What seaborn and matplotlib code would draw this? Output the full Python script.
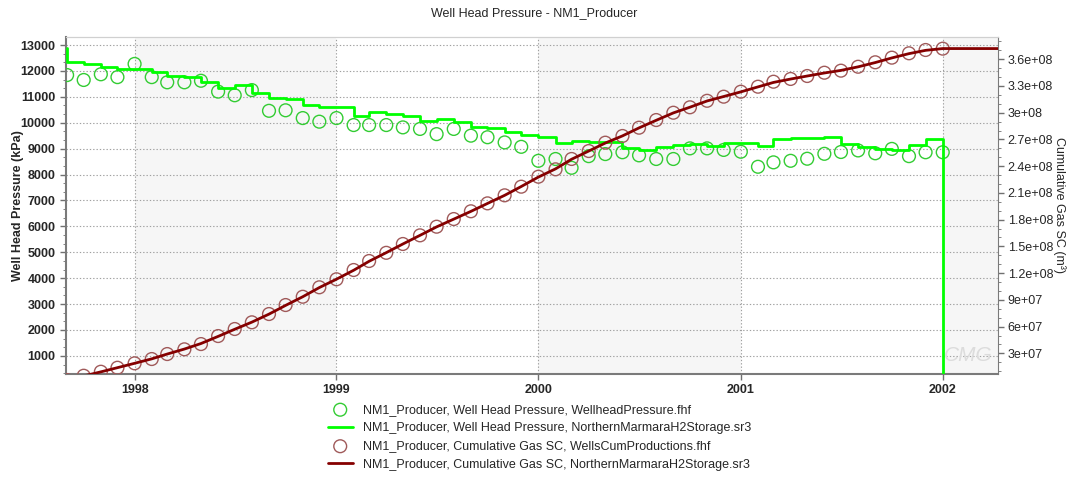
import numpy as np
import pandas as pd
import matplotlib
matplotlib.use("Agg")
import matplotlib.pyplot as plt
import matplotlib.dates as mdates
from matplotlib.ticker import MultipleLocator, AutoMinorLocator, FuncFormatter
import seaborn as sns

# ---------------- data ----------------
obs_months = pd.date_range("1997-09-01", "2002-01-01", freq="MS")

obs_pressure = [11840, 11650, 11870, 11760,
                12270, 11760, 11560, 11560, 11620, 11200, 11060, 11260, 10460, 10480, 10180, 10040,
                10180, 9910, 9910, 9910, 9820, 9760, 9560, 9760, 9500, 9440, 9240, 9070,
                8530, 8600, 8260, 8710, 8790, 8860, 8740, 8600, 8600, 9010, 9010, 8950,
                8880, 8300, 8470, 8530, 8610, 8800, 8870, 8930, 8820, 8990, 8710, 8860,
                8860]

obs_cum_gas = [0.0, 4.86e6, 9.35e6, 1.384e7,
               1.878e7, 2.36e7, 2.92e7, 3.45e7, 4.04e7, 4.94e7, 5.73e7, 6.48e7, 7.41e7, 8.42e7, 9.35e7, 1.041e8,
               1.131e8, 1.235e8, 1.336e8, 1.428e8, 1.527e8, 1.624e8, 1.721e8, 1.807e8, 1.894e8, 1.983e8, 2.073e8, 2.170e8,
               2.282e8, 2.365e8, 2.481e8, 2.570e8, 2.664e8, 2.739e8, 2.832e8, 2.918e8, 3.000e8, 3.061e8, 3.134e8, 3.180e8,
               3.236e8, 3.292e8, 3.348e8, 3.379e8, 3.412e8, 3.449e8, 3.472e8, 3.516e8, 3.566e8, 3.618e8, 3.667e8, 3.704e8,
               3.719e8]

sim_pressure_dates = pd.to_datetime(["1997-08-31"]).append(
    pd.date_range("1997-09-01", "2002-04-01", freq="MS"))
sim_pressure = [12880,
                12330, 12254, 12140, 12062,
                12090, 11950, 11820, 11776, 11560, 11328, 11470, 11160, 10965, 10915, 10700, 10620,
                10620, 10260, 10420, 10325, 10259, 10077, 10131, 10039, 9846, 9807, 9653, 9525,
                9459, 9205, 9293, 9266, 9266, 9011, 8946, 9073, 9140, 9165, 9114, 9205,
                9205, 9089, 9371, 9421, 9421, 9436, 9165, 9050, 8973, 8946, 9140, 9359,
                0, 0, 0, 0]

sim_cum_dates = pd.date_range("1997-09-01", "2002-01-01", freq="MS").append(
    pd.to_datetime(["2002-04-15"]))
sim_cum_gas = [0.0, 4.6e6, 9.2e6, 1.39e7,
               1.88e7, 2.38e7, 2.92e7, 3.48e7, 4.10e7, 4.90e7, 5.70e7, 6.50e7, 7.40e7, 8.38e7, 9.35e7, 1.038e8,
               1.132e8, 1.232e8, 1.333e8, 1.430e8, 1.527e8, 1.624e8, 1.719e8, 1.806e8, 1.893e8, 1.982e8, 2.073e8, 2.172e8,
               2.278e8, 2.370e8, 2.478e8, 2.570e8, 2.660e8, 2.740e8, 2.830e8, 2.915e8, 2.998e8, 3.062e8, 3.132e8, 3.182e8,
               3.234e8, 3.290e8, 3.340e8, 3.378e8, 3.412e8, 3.446e8, 3.475e8, 3.515e8, 3.563e8, 3.615e8, 3.663e8, 3.700e8,
               3.720e8, 3.720e8]

labels = ["NM1_Producer, Well Head Pressure, WellheadPressure.fhf",
          "NM1_Producer, Well Head Pressure, NorthernMarmaraH2Storage.sr3",
          "NM1_Producer, Cumulative Gas SC, WellsCumProductions.fhf",
          "NM1_Producer, Cumulative Gas SC, NorthernMarmaraH2Storage.sr3"]

# ---------------- style ----------------
sns.set_style("ticks")
plt.rcParams["font.family"] = ["Liberation Sans", "DejaVu Sans"]

fig = plt.figure(figsize=(10.68, 4.79), dpi=100)
ax = fig.add_axes([0.0618, 0.2192, 0.8727, 0.7036])
ax2 = ax.twinx()

xmin, xmax = pd.Timestamp("1997-08-30"), pd.Timestamp("2002-04-11")

# alternating shaded year bands
for a, b in [("1998-01-01", "1999-01-01"), ("2000-01-01", "2001-01-01"), ("2002-01-01", "2002-12-31")]:
    ax.axvspan(pd.Timestamp(a), pd.Timestamp(b), color="#f6f6f6", zorder=0, lw=0)

grid_kw = dict(color="#a0a0a0", linestyle=(0, (1.2, 1.8)), linewidth=0.8)
ax.grid(True, axis="both", which="major", **grid_kw)
ax.set_axisbelow(True)

ax.text(0.968, 0.055, "CMG", transform=ax.transAxes, ha="center", va="center",
        fontsize=15, color="#dcdcdc", style="italic", zorder=1)

# pressure
sns.scatterplot(x=obs_months, y=obs_pressure, ax=ax, marker="o", s=85,
                facecolor="none", edgecolor="#33cc33", linewidth=1.0,
                label=labels[0], legend=False, zorder=3)
sns.lineplot(x=sim_pressure_dates, y=sim_pressure, ax=ax, color="#00ff00",
             linewidth=2.0, drawstyle="steps-post", label=labels[1],
             legend=False, zorder=4, estimator=None)

# cumulative gas
sns.scatterplot(x=obs_months, y=obs_cum_gas, ax=ax2, marker="o", s=85,
                facecolor="none", edgecolor="#a05a5a", linewidth=1.0,
                label=labels[2], legend=False, zorder=3)
sns.lineplot(x=sim_cum_dates, y=sim_cum_gas, ax=ax2, color="#850000",
             linewidth=2.0, label=labels[3], legend=False, zorder=4, estimator=None)

# axes limits / ticks
ax.set_xlim(xmin, xmax)
ax.set_ylim(300, 13310)
ax2.set_ylim(6.8e6, 3.85e8)

ax.xaxis.set_major_locator(mdates.YearLocator())
ax.xaxis.set_major_formatter(mdates.DateFormatter("%Y"))
ax.set_yticks([v for v in range(1000, 14000, 1000)])
ax.yaxis.set_minor_locator(AutoMinorLocator(3))
ax2.set_yticks([3e7 * k for k in range(1, 13)])
ax2.yaxis.set_minor_locator(AutoMinorLocator(3))
ax2.yaxis.set_major_formatter(FuncFormatter(lambda v, p: "%g" % v))

ax.tick_params(axis="both", which="major", labelsize=9, length=4, color="#707070", width=1)
ax.tick_params(axis="y", which="minor", length=2, color="#707070")
ax2.tick_params(axis="y", which="major", labelsize=9, length=4, color="#707070", width=1, pad=3)
ax2.tick_params(axis="y", which="minor", length=2, color="#707070")
for lab in ax.get_yticklabels() + ax.get_xticklabels():
    lab.set_fontweight("bold")

ax.set_xlabel("")
ax.set_ylabel("Well Head Pressure (kPa)", fontsize=9, fontweight="bold", va="center")
ax.yaxis.set_label_coords(-0.052, 0.5)
ax2.set_ylabel("Cumulative Gas SC (m³)", fontsize=9, rotation=-90, va="center", ha="center")
ax2.yaxis.set_label_coords(1.066, 0.5)

for sp in ["left", "bottom"]:
    ax.spines[sp].set_color("#7a7a7a")
    ax.spines[sp].set_linewidth(1.5)
ax.spines["top"].set_color("#d0d0d0")
ax2.spines["top"].set_color("#d0d0d0")
ax2.spines["right"].set_color("#7a7a7a")
ax.spines["right"].set_visible(False)
ax2.spines["left"].set_visible(False)
ax2.spines["bottom"].set_visible(False)

fig.suptitle("Well Head Pressure - NM1_Producer", fontsize=9, y=0.985, x=0.5)

for a in (ax, ax2):
    if a.get_legend() is not None:
        a.get_legend().remove()

h1, l1 = ax.get_legend_handles_labels()
h2, l2 = ax2.get_legend_handles_labels()
fig.legend(h1 + h2, l1 + l2, loc="upper center", bbox_to_anchor=(0.505, 0.167),
           frameon=False, fontsize=9, labelspacing=0.5, handlelength=2.0,
           handletextpad=0.8, borderaxespad=0)

fig.savefig("out.png", dpi=100)
